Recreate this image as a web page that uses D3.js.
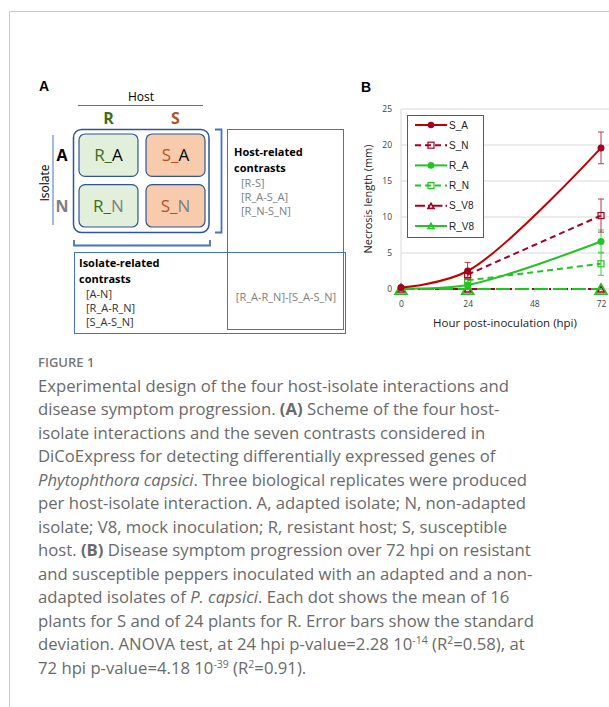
<!DOCTYPE html>
<html>
<head>
<meta charset="utf-8">
<script src="https://cdn.jsdelivr.net/npm/d3@7"></script>
<style>
  body { margin: 0; background: #fff; }
  svg { display: block; }
</style>
</head>
<body>
<svg id="fig" width="609" height="707"></svg>
<script>
// ---- data ----
const hpi = [0, 24, 72];
const seriesNames = ['S_A', 'S_N', 'R_A', 'R_N', 'S_V8', 'R_V8'];
const sA = [0.2, 2.5, 19.6];
const sA_sd = [0, 1.2, 2.2];
const sN = [null, 2.0, 10.2];
const sN_sd = [0, 0.5, 2.3];
const rA = [0.1, 0.55, 6.6];
const rA_sd = [0, 0.3, 1.6];
const rN = [null, 1.2, 3.5];
const rN_sd = [0, 0.3, 1.6];
const sV8 = [0, 0, 0];
const rV8 = [0, 0, 0];
const yTicks = [0, 5, 10, 15, 20, 25];
const xTicks = [0, 24, 48, 72];

const hosts = ['R', 'S'];
const isolates = ['A', 'N'];
const hostContrasts = ['[R-S]', '[R_A-S_A]', '[R_N-S_N]'];
const isolateContrasts = ['[A-N]', '[R_A-R_N]', '[S_A-S_N]'];
const interactionContrast = '[R_A-R_N]-[S_A-S_N]';

const captionLines = [
  'Experimental design of the four host-isolate interactions and',
  'disease symptom progression. **(A)** Scheme of the four host-',
  'isolate interactions and the seven contrasts considered in',
  'DiCoExpress for detecting differentially expressed genes of',
  '_Phytophthora capsici_. Three biological replicates were produced',
  'per host-isolate interaction. A, adapted isolate; N, non-adapted',
  'isolate; V8, mock inoculation; R, resistant host; S, susceptible',
  'host. **(B)** Disease symptom progression over 72 hpi on resistant',
  'and susceptible peppers inoculated with an adapted and a non-',
  'adapted isolates of _P. capsici_. Each dot shows the mean of 16',
  'plants for S and of 24 plants for R. Error bars show the standard',
  'deviation. ANOVA test, at 24 hpi p-value=2.28 10^-14^ (R^2^=0.58), at',
  '72 hpi p-value=4.18 10^-39^ (R^2^=0.91).'
];

const svg = d3.select('#fig');

// frame
svg.append('path').attr('d', 'M9.5,707 V11.5 H609')
  .attr('fill', 'none').attr('stroke', '#c8c8c8').attr('stroke-width', 1);

// ---- panel A ----
const A = svg.append('g');
const blue = '#4472c4', dblue = '#2f5597';
const hostCol = { R: '#3b6e22', S: '#b5521c' };
const isoCol = { A: '#000', N: '#808080' };
const cellFill = { R: '#e2efda', S: '#f8cbad' };
const fA = 'Open Sans, sans-serif';

A.append('text').attr('x', 39).attr('y', 91).text('A')
  .attr('font-family', 'Liberation Sans, Arial').attr('font-weight', 'bold').attr('font-size', 14);

A.append('text').attr('x', 141).attr('y', 101).attr('text-anchor', 'middle')
  .attr('font-family', fA).attr('font-size', 12).text('Host');
A.append('line').attr('x1', 78).attr('x2', 203).attr('y1', 105.5).attr('y2', 105.5)
  .attr('stroke', blue).attr('stroke-width', 1);

const cx = d3.scaleBand().domain(hosts).range([79, 205]).paddingInner(0.12);
const cy = d3.scaleBand().domain(isolates).range([134, 227]).paddingInner(0.16);

A.selectAll('.hl').data(hosts).enter().append('text')
  .attr('x', d => cx(d) + cx.bandwidth() / 2).attr('y', 124)
  .attr('text-anchor', 'middle').attr('font-family', fA).attr('font-weight', 'bold')
  .attr('font-size', 16).attr('fill', d => hostCol[d]).text(d => d);

A.selectAll('.il').data(isolates).enter().append('text')
  .attr('x', 62).attr('y', d => cy(d) + cy.bandwidth() / 2 + 6)
  .attr('text-anchor', 'middle').attr('font-family', fA).attr('font-weight', 'bold')
  .attr('font-size', 16).attr('fill', d => isoCol[d] === '#000' ? '#000' : '#7f7f7f').text(d => d);

A.append('text').attr('transform', 'translate(49,183) rotate(-90)')
  .attr('text-anchor', 'middle').attr('font-family', fA).attr('font-size', 12).text('Isolate');
A.append('line').attr('x1', 53).attr('x2', 53).attr('y1', 135).attr('y2', 225)
  .attr('stroke', blue).attr('stroke-width', 1);

A.append('rect').attr('x', 73.5).attr('y', 129.5).attr('width', 135.5).attr('height', 103)
  .attr('rx', 8).attr('fill', 'none').attr('stroke', dblue).attr('stroke-width', 1.5);

const cells = [];
isolates.forEach(i => hosts.forEach(h => cells.push({ h, i })));
const cg = A.selectAll('.cell').data(cells).enter().append('g');
cg.append('rect')
  .attr('x', d => cx(d.h)).attr('y', d => cy(d.i))
  .attr('width', cx.bandwidth()).attr('height', cy.bandwidth())
  .attr('rx', 6).attr('fill', d => cellFill[d.h]).attr('stroke', dblue).attr('stroke-width', 1.2);
const ct = cg.append('text')
  .attr('x', d => cx(d.h) + cx.bandwidth() / 2).attr('y', d => cy(d.i) + cy.bandwidth() / 2 + 6)
  .attr('text-anchor', 'middle').attr('font-family', fA).attr('font-size', 17);
ct.append('tspan').attr('fill', d => hostCol[d.h]).text(d => d.h + '_');
ct.append('tspan').attr('fill', d => isoCol[d.i]).text(d => d.i);

// brackets
A.append('path').attr('d', 'M215,129.5 H221.5 V232.5 H215')
  .attr('fill', 'none').attr('stroke', blue).attr('stroke-width', 1.8);
A.append('path').attr('d', 'M74,240 V245.5 H210 V240')
  .attr('fill', 'none').attr('stroke', blue).attr('stroke-width', 1.8);

// contrast boxes
A.append('rect').attr('x', 227.5).attr('y', 129.5).attr('width', 116).attr('height', 200)
  .attr('fill', 'none').attr('stroke', blue).attr('stroke-width', 1);
A.append('rect').attr('x', 74.5).attr('y', 252.5).attr('width', 271).attr('height', 81)
  .attr('fill', 'none').attr('stroke', blue).attr('stroke-width', 1);

function block(x, y, title, items, col) {
  title.forEach((t, k) => A.append('text').attr('x', x).attr('y', y + k * 16)
    .attr('font-family', fA).attr('font-weight', 'bold').attr('font-size', 11).text(t));
  items.forEach((t, k) => A.append('text').attr('x', x + 7).attr('y', y + 31 + k * 14)
    .attr('font-family', fA).attr('font-size', 11).attr('fill', col).text(t));
}
block(234, 156, ['Host-related', 'contrasts'], hostContrasts, '#808080');
block(79, 267, ['Isolate-related', 'contrasts'], isolateContrasts, '#333');
A.append('text').attr('x', 286).attr('y', 301).attr('text-anchor', 'middle')
  .attr('font-family', fA).attr('font-size', 11).attr('fill', '#808080').text(interactionContrast);

// ---- panel B ----
const B = svg.append('g');
B.append('text').attr('x', 361).attr('y', 92).text('B')
  .attr('font-family', 'Liberation Sans, Arial').attr('font-weight', 'bold').attr('font-size', 14);

const x = d3.scaleLinear().domain([0, 72]).range([401, 601]);
const y = d3.scaleLinear().domain([0, 25]).range([289, 109]);

B.selectAll('.grid').data(yTicks.slice(1)).enter().append('line')
  .attr('x1', x(0)).attr('x2', 609).attr('y1', d => y(d)).attr('y2', d => y(d))
  .attr('stroke', '#d9d9d9').attr('stroke-width', 1);
B.append('line').attr('x1', x(0)).attr('x2', x(0)).attr('y1', y(25)).attr('y2', y(0))
  .attr('stroke', '#d9d9d9');
B.append('line').attr('x1', x(0)).attr('x2', 609).attr('y1', y(0)).attr('y2', y(0))
  .attr('stroke', '#d9d9d9');

const yAxis = B.append('g').attr('transform', `translate(${x(0)},0)`)
  .call(d3.axisLeft(y).tickValues(yTicks).tickSize(0).tickPadding(9));
const xAxis = B.append('g').attr('transform', `translate(0,${y(0)})`)
  .call(d3.axisBottom(x).tickValues(xTicks).tickSize(3).tickPadding(9));
[yAxis, xAxis].forEach(g => {
  g.select('.domain').remove();
  g.selectAll('text').attr('font-family', 'Open Sans, sans-serif').attr('font-size', 8.5).attr('fill', '#404040');
  g.selectAll('line').attr('stroke', '#bfbfbf');
});

B.append('text').attr('x', 505).attr('y', 327).attr('text-anchor', 'middle')
  .attr('font-family', 'Open Sans, sans-serif').attr('font-size', 11.5).attr('fill', '#222')
  .text('Hour post-inoculation (hpi)');
B.append('text').attr('transform', 'translate(372,199) rotate(-90)').attr('text-anchor', 'middle')
  .attr('font-family', 'Open Sans, sans-serif').attr('font-size', 11).attr('fill', '#222')
  .text('Necrosis length (mm)');

const red = '#c00000', dred = '#a50021', green = '#22c322';
const series = [
  { name: 'S_V8', v: sV8, sd: null, color: dred, dash: '9,3,2,3', curve: d3.curveLinear, mark: 'tri', ms: 7, sw: 2 },
  { name: 'R_V8', v: rV8, sd: null, color: green, dash: '14,5', curve: d3.curveLinear, mark: 'tri', ms: 12, sw: 2 },
  { name: 'R_N', v: rN, sd: rN_sd, color: green, dash: '6,4', curve: d3.curveLinear, mark: 'sq', ms: 6, sw: 2 },
  { name: 'R_A', v: rA, sd: rA_sd, color: green, dash: null, curve: d3.curveCatmullRom, mark: 'dot', ms: 3.5, sw: 2 },
  { name: 'S_N', v: sN, sd: sN_sd, color: dred, dash: '6,4', curve: d3.curveLinear, mark: 'sq', ms: 6, sw: 2 },
  { name: 'S_A', v: sA, sd: sA_sd, color: red, dash: null, curve: d3.curveCatmullRom, mark: 'dot', ms: 3.5, sw: 2 }
];
const legendStyle = {
  S_V8: { dash: '10,3,1.5,3' }, R_V8: { dash: null }
};

function marker(g, s, px, py, size) {
  if (s.mark === 'dot') {
    g.append('circle').attr('cx', px).attr('cy', py).attr('r', size)
      .attr('fill', s.name === 'S_A' ? dred : s.color);
  } else if (s.mark === 'sq') {
    g.append('rect').attr('x', px - size / 2).attr('y', py - size / 2)
      .attr('width', size).attr('height', size).attr('fill', 'none')
      .attr('stroke', s.color).attr('stroke-width', 1.2);
  } else {
    const h = size * 0.85;
    g.append('path').attr('d', `M${px - size / 2},${py + h / 2} L${px},${py - h / 2} L${px + size / 2},${py + h / 2} Z`)
      .attr('fill', 'none').attr('stroke', s.color).attr('stroke-width', 1.6);
  }
}

const plot = B.append('g');
series.forEach(s => {
  const pts = hpi.map((h, i) => ({ h, v: s.v[i], sd: s.sd ? s.sd[i] : 0 }));
  const line = d3.line().defined(d => d.v !== null).x(d => x(d.h)).y(d => y(d.v)).curve(s.curve);
  plot.append('path').datum(pts).attr('d', line).attr('fill', 'none')
    .attr('stroke', s.color).attr('stroke-width', s.sw)
    .attr('stroke-dasharray', s.dash);
  pts.filter(d => d.v !== null && d.sd > 0).forEach(d => {
    const eb = plot.append('g').attr('stroke', s.name.startsWith('S') ? '#b8394f' : '#44cc44').attr('stroke-width', 1);
    eb.append('line').attr('x1', x(d.h)).attr('x2', x(d.h)).attr('y1', y(d.v + d.sd)).attr('y2', y(d.v - d.sd));
    [d.v + d.sd, d.v - d.sd].forEach(e => eb.append('line')
      .attr('x1', x(d.h) - 3).attr('x2', x(d.h) + 3).attr('y1', y(e)).attr('y2', y(e)));
  });
  pts.filter(d => d.v !== null).forEach(d => marker(plot, s, x(d.h), y(d.v), s.ms));
});

// legend
const lg = B.append('g');
lg.append('rect').attr('x', 407.5).attr('y', 115.5).attr('width', 76).attr('height', 122)
  .attr('fill', '#fff').attr('stroke', '#595959').attr('stroke-width', 1);
const ly = d3.scalePoint().domain(seriesNames).range([125, 226]);
seriesNames.forEach(n => {
  const s = series.find(d => d.name === n);
  const dash = legendStyle[n] ? legendStyle[n].dash : s.dash;
  lg.append('line').attr('x1', 415).attr('x2', 447).attr('y1', ly(n)).attr('y2', ly(n))
    .attr('stroke', s.color).attr('stroke-width', 2).attr('stroke-dasharray', dash);
  marker(lg, s, 431, ly(n), s.mark === 'dot' ? 3.3 : 6);
  lg.append('text').attr('x', 449).attr('y', ly(n) + 3.5)
    .attr('font-family', 'Liberation Sans, Arial').attr('font-size', 10).attr('fill', '#222').text(n);
});

// ---- caption ----
const cap = svg.append('g').attr('font-family', 'Open Sans, sans-serif').attr('fill', '#6a6a6a');
cap.append('text').attr('x', 38).attr('y', 367).attr('font-size', 13).attr('font-weight', 600)
  .attr('fill', '#777').text('FIGURE 1');

captionLines.forEach((ln, k) => {
  const t = cap.append('text').attr('x', 38).attr('y', 391.5 + k * 23.5).attr('font-size', 16.7);
  const parts = ln.split(/(\*\*[^*]+\*\*|_[^_]+_(?![A-Z])|\^[^^]+\^)/).filter(p => p);
  let back = 0;
  parts.forEach(p => {
    let ts;
    if (p.startsWith('**')) ts = t.append('tspan').attr('font-weight', 'bold').text(p.slice(2, -2));
    else if (p.startsWith('^')) {
      ts = t.append('tspan').attr('dy', -6 + back).attr('font-size', 10.5).text(p.slice(1, -1));
      back = 6;
      return;
    } else if (p.startsWith('_') && p.endsWith('_') && p.length > 2) ts = t.append('tspan').attr('font-style', 'italic').text(p.slice(1, -1));
    else ts = t.append('tspan').text(p);
    if (back) { ts.attr('dy', back); back = 0; }
  });
});
</script>
</body>
</html>
